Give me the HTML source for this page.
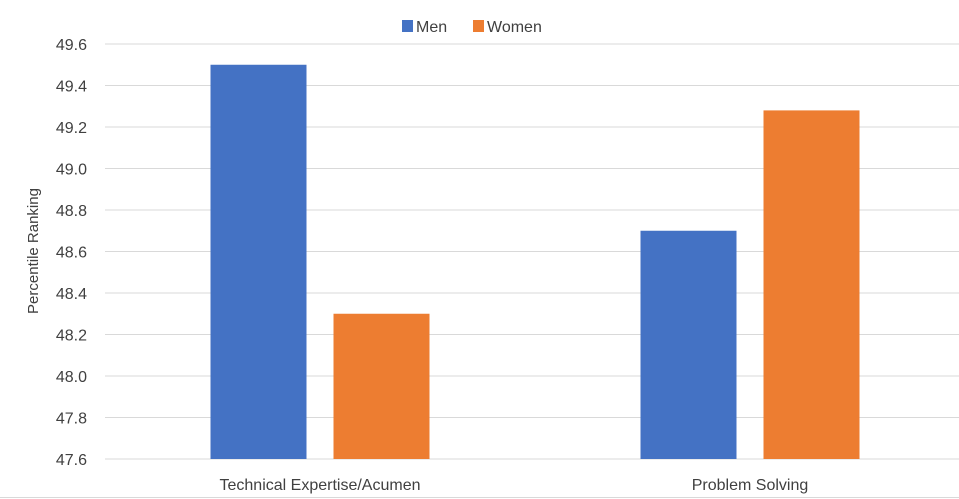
<!DOCTYPE html>
<html><head><meta charset="utf-8"><style>
body{margin:0;background:#fff;}
svg{display:block;font-family:"Liberation Sans",sans-serif;}
</style></head><body>
<svg id="chart" width="959" height="499">
<line x1="0" y1="497.5" x2="959" y2="497.5" stroke="#d9d9d9"/>
<g>
<rect x="402" y="20" width="11" height="12" fill="#4472c4"/>
<text x="416" y="32" font-size="16" fill="#404040">Men</text>
<rect x="473" y="20" width="11" height="12" fill="#ed7d31"/>
<text x="487" y="32" font-size="16" fill="#404040">Women</text>
</g>
<text transform="translate(38,251) rotate(-90)" text-anchor="middle" font-size="15" fill="#404040">Percentile Ranking</text>
<g id="grid"></g><g id="bars"></g><g id="labels"></g>
</svg>
<script>
const categories=["Technical Expertise/Acumen","Problem Solving"];
const men=[49.5,48.7];
const women=[48.3,49.28];
const ticks=[47.6,47.8,48.0,48.2,48.4,48.6,48.8,49.0,49.2,49.4,49.6];
const NS="http://www.w3.org/2000/svg";
const yMin=47.6,yMax=49.6,yTop=44,yBot=459;
function y(v){return yBot-(v-yMin)/(yMax-yMin)*(yBot-yTop);}
const x0=105,band=430;
function xc(i){return x0+band*(i+0.5);}
function mk(t,a,p){const e=document.createElementNS(NS,t);for(const k in a)e.setAttribute(k,a[k]);p.appendChild(e);return e;}
const grid=document.getElementById('grid'),bars=document.getElementById('bars'),labels=document.getElementById('labels');
ticks.forEach(t=>{
 const l=mk('line',{x1:x0,x2:959,y1:y(t),y2:y(t),stroke:'#d9d9d9','stroke-width':1},grid);
 
 
 const tx=mk('text',{x:87,y:y(t)+6,'text-anchor':'end','font-size':16,fill:'#404040'},labels);
 tx.textContent=t.toFixed(1);
 
 
});
const bw=96,gap=27;
categories.forEach((c,i)=>{
 const cx=xc(i);
 const b1=mk('rect',{x:cx-gap/2-bw,y:y(men[i]),width:bw,height:yBot-y(men[i]),fill:'#4472c4'},bars);
 
 
 const b2=mk('rect',{x:cx+gap/2,y:y(women[i]),width:bw,height:yBot-y(women[i]),fill:'#ed7d31'},bars);
 
 
 const t=mk('text',{x:cx,y:490,'text-anchor':'middle','font-size':16,fill:'#404040'},labels);
 t.textContent=c;
 
 
});
</script>
</body></html>
